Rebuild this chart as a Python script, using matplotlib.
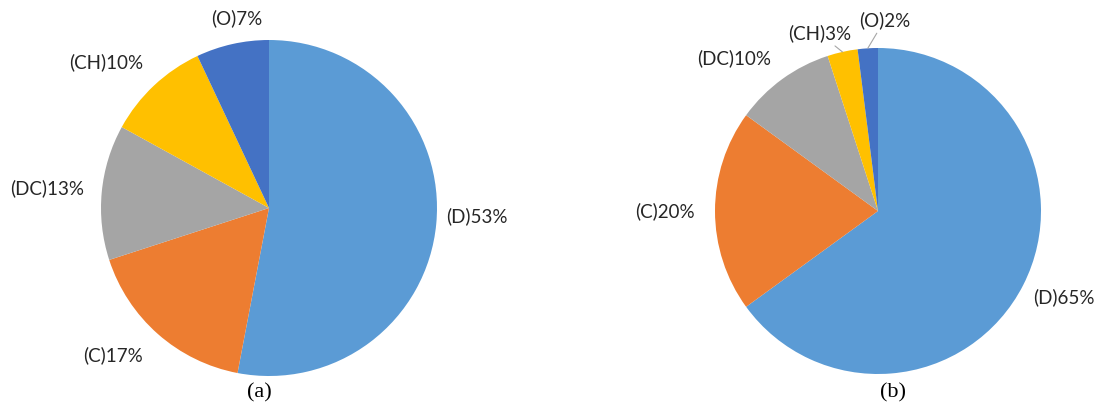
"""Two pie charts (a) and (b) with outside percentage labels."""

import matplotlib

matplotlib.use("Agg")
import matplotlib.pyplot as plt
import numpy as np

W, H = 1102, 408

CATEGORIES = ["D", "C", "DC", "CH", "O"]
COLORS = ["#5B9BD5", "#ED7D31", "#A5A5A5", "#FFC000", "#4472C4"]

SHARES_A = [53, 17, 13, 10, 7]
SHARES_B = [65, 20, 10, 3, 2]

# label centres, in units of the pie radius, relative to the pie centre
LABEL_POS_A = [(1.24, -0.05), (-0.93, -0.875), (-1.32, 0.12), (-0.97, 0.87), (-0.19, 1.13)]
LABEL_POS_B = [(1.14, -0.53), (-1.31, 0.0), (-0.88, 0.94), (-0.36, 1.09), (0.04, 1.17)]
LEADERS_B = [False, False, False, True, True]

plt.rcParams["font.family"] = ["Lato", "DejaVu Sans"]


def pie_axes(fig, x0, x1):
    ax = fig.add_axes([x0 / W, 0, (x1 - x0) / W, 1])
    ax.axis("off")
    return ax


def set_view(ax, x0, x1, cx, cy, r):
    """Map pixel columns x0..x1 so the pie centre lands at (cx, cy) with radius r px."""
    ax.set_aspect("auto")
    ax.set_xlim(-(cx - x0) / r, (x1 - cx) / r)
    ax.set_ylim(-(H - cy) / r, cy / r)


def draw_pie(ax, shares, label_pos, leaders=None):
    wedges, _ = ax.pie(shares, colors=COLORS, startangle=90, counterclock=False,
                       radius=1.0, wedgeprops=dict(linewidth=0))
    for i, (cat, val, pos) in enumerate(zip(CATEGORIES, shares, label_pos)):
        text = f"({cat}){val}%"
        if leaders and leaders[i]:
            w = wedges[i]
            mid = np.deg2rad((w.theta1 + w.theta2) / 2)
            ax.annotate(text, xy=(np.cos(mid), np.sin(mid)), xytext=pos,
                        ha="center", va="center", fontsize=13.5, color="#262626",
                        arrowprops=dict(arrowstyle="-", color="#A6A6A6", lw=0.8,
                                        shrinkA=1, shrinkB=0))
        else:
            ax.text(pos[0], pos[1], text, ha="center", va="center",
                    fontsize=13.5, color="#262626")


fig = plt.figure(figsize=(W / 100, H / 100), dpi=100)

ax_a = pie_axes(fig, 0, 551)
draw_pie(ax_a, SHARES_A, LABEL_POS_A)
set_view(ax_a, 0, 551, 269, 208, 168)

ax_b = pie_axes(fig, 551, 1102)
draw_pie(ax_b, SHARES_B, LABEL_POS_B, LEADERS_B)
set_view(ax_b, 551, 1102, 878, 211, 163)

fig.text(259 / W, 1 - 393 / H, "(a)", ha="center", va="center",
         fontsize=16, family="Liberation Serif")
fig.text(893 / W, 1 - 393 / H, "(b)", ha="center", va="center",
         fontsize=16, family="Liberation Serif")

fig.savefig("out.png", dpi=100)
